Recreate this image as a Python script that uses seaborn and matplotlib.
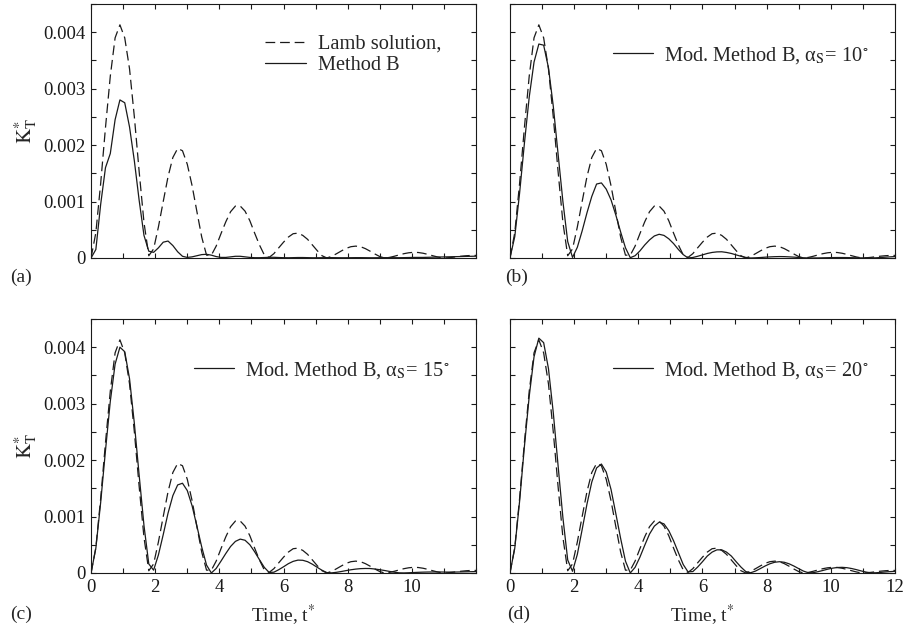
import numpy as np
import matplotlib.pyplot as plt
import seaborn as sns
from matplotlib.ticker import MultipleLocator

# sample times (t*), every 0.15 from 0 to 12
t = np.round(np.arange(81) * 0.15, 2)

# K*_T values, in units of 1e-3
lamb = np.array([
    0.00, 0.45, 1.32, 2.31, 3.22, 3.90, 4.13, 3.90, 3.35, 2.50,
    1.53, 0.63, 0.04, 0.16, 0.55, 1.00, 1.44, 1.78, 1.94, 1.90,
    1.66, 1.28, 0.82, 0.37, 0.05, 0.05, 0.21, 0.43, 0.64, 0.82,
    0.92, 0.92, 0.83, 0.66, 0.44, 0.23, 0.055, 0.01, 0.077, 0.18,
    0.28, 0.37, 0.43, 0.44, 0.40, 0.33, 0.23, 0.13, 0.04, 0.00,
    0.029, 0.075, 0.124, 0.17, 0.20, 0.21, 0.20, 0.166, 0.12, 0.07,
    0.025, 0.00, 0.010, 0.030, 0.054, 0.076, 0.092, 0.100, 0.097, 0.084,
    0.064, 0.040, 0.018, 0.002, 0.003, 0.011, 0.022, 0.032, 0.040, 0.045,
    0.045]) * 1e-3

method_b = np.array([
    0.00, 0.15, 0.95, 1.60, 1.85, 2.45, 2.80, 2.75, 2.32, 1.72,
    1.02, 0.40, 0.12, 0.10, 0.18, 0.28, 0.30, 0.22, 0.11, 0.03,
    0.01, 0.02, 0.04, 0.06, 0.065, 0.05, 0.025, 0.01, 0.01, 0.02,
    0.03, 0.03, 0.02, 0.01, 0.005, 0.005, 0.008, 0.012, 0.012, 0.008,
    0.005, 0.004, 0.006, 0.008, 0.008, 0.006, 0.004, 0.004, 0.005, 0.006,
    0.006, 0.005, 0.004, 0.004, 0.005, 0.006, 0.006, 0.005, 0.004, 0.004,
    0.005, 0.006, 0.006, 0.005, 0.005, 0.006, 0.008, 0.010, 0.010, 0.010,
    0.012, 0.014, 0.016, 0.018, 0.020, 0.022, 0.024, 0.026, 0.028, 0.030,
    0.032]) * 1e-3

mod_10 = np.array([
    0.00, 0.38, 1.15, 2.03, 2.85, 3.47, 3.79, 3.77, 3.37, 2.69,
    1.84, 1.00, 0.29, 0.01, 0.19, 0.48, 0.80, 1.09, 1.31, 1.33,
    1.22, 1.03, 0.76, 0.46, 0.18, 0.005, 0.04, 0.125, 0.23, 0.32,
    0.39, 0.42, 0.40, 0.34, 0.255, 0.15, 0.06, 0.00, 0.009, 0.03,
    0.055, 0.08, 0.098, 0.108, 0.11, 0.098, 0.08, 0.055, 0.03, 0.01,
    0.00, 0.003, 0.008, 0.014, 0.019, 0.023, 0.025, 0.024, 0.02, 0.015,
    0.009, 0.004, 0.001, 0.0, 0.001, 0.003, 0.005, 0.007, 0.008, 0.008,
    0.007, 0.005, 0.003, 0.002, 0.001, 0.0, 0.003, 0.008, 0.014, 0.02,
    0.025]) * 1e-3

mod_15 = np.array([
    0.00, 0.44, 1.25, 2.17, 3.04, 3.70, 4.00, 3.92, 3.44, 2.65,
    1.73, 0.84, 0.16, 0.05, 0.32, 0.68, 1.06, 1.37, 1.56, 1.59,
    1.46, 1.19, 0.83, 0.46, 0.14, 0.00, 0.08, 0.21, 0.345, 0.47,
    0.56, 0.60, 0.58, 0.50, 0.375, 0.235, 0.10, 0.01, 0.014, 0.058,
    0.11, 0.165, 0.206, 0.228, 0.225, 0.20, 0.155, 0.10, 0.048, 0.007,
    0.002, 0.012, 0.026, 0.042, 0.057, 0.069, 0.077, 0.080, 0.079, 0.07,
    0.058, 0.044, 0.028, 0.014, 0.003, 0.001, 0.004, 0.008, 0.012, 0.015,
    0.017, 0.018, 0.018, 0.017, 0.016, 0.016, 0.017, 0.019, 0.021, 0.023,
    0.025]) * 1e-3

mod_20 = np.array([
    0.00, 0.44, 1.27, 2.24, 3.13, 3.83, 4.16, 4.08, 3.62, 2.84,
    1.90, 0.98, 0.23, 0.03, 0.33, 0.77, 1.22, 1.61, 1.86, 1.93,
    1.79, 1.48, 1.05, 0.61, 0.21, 0.00, 0.10, 0.28, 0.49, 0.69,
    0.83, 0.90, 0.87, 0.75, 0.57, 0.36, 0.15, 0.02, 0.025, 0.105,
    0.20, 0.30, 0.37, 0.41, 0.41, 0.37, 0.30, 0.20, 0.105, 0.025,
    0.004, 0.033, 0.077, 0.123, 0.163, 0.19, 0.20, 0.19, 0.163, 0.123,
    0.077, 0.033, 0.004, 0.005, 0.023, 0.044, 0.067, 0.085, 0.097, 0.10,
    0.094, 0.079, 0.059, 0.036, 0.016, 0.002, 0.004, 0.01, 0.018, 0.024,
    0.03]) * 1e-3

panels = ['(a)', '(b)', '(c)', '(d)']
solid_curves = [method_b, mod_10, mod_15, mod_20]
solid_labels = ['Method B',
                'Mod. Method B, α$_\\mathrm{S}$= 10$^{\\circ}$',
                'Mod. Method B, α$_\\mathrm{S}$= 15$^{\\circ}$',
                'Mod. Method B, α$_\\mathrm{S}$= 20$^{\\circ}$']
ytick_vals = [0, 0.001, 0.002, 0.003, 0.004]
ytick_labels = ['0', '0.001', '0.002', '0.003', '0.004']

sns.set_theme(style='ticks')
plt.rcParams['font.family'] = ['Liberation Serif', 'DejaVu Serif']
plt.rcParams['mathtext.fontset'] = 'stix'
plt.rcParams['lines.scale_dashes'] = False

fig = plt.figure(figsize=(9.05, 6.28), dpi=100)
boxes = [[0.1006, 0.5892, 0.4254, 0.4045], [0.5635, 0.5892, 0.4254, 0.4045],
         [0.1006, 0.0876, 0.4254, 0.4045], [0.5635, 0.0876, 0.4254, 0.4045]]
tag_pos = [(0.011, 0.559), (0.558, 0.559), (0.011, 0.021), (0.560, 0.021)]

for i in range(4):
    ax = fig.add_axes(boxes[i])
    sns.lineplot(x=t, y=lamb, ax=ax, color='k', lw=0.9, linestyle=(0, (7, 3.5)))
    sns.lineplot(x=t, y=solid_curves[i], ax=ax, color='k', lw=0.9)
    ax.set_xlim(0, 12)
    ax.set_ylim(0, 0.0045)
    ax.xaxis.set_major_locator(MultipleLocator(2))
    ax.xaxis.set_minor_locator(MultipleLocator(1))
    ax.set_yticks(ytick_vals)
    ax.yaxis.set_minor_locator(MultipleLocator(0.0005))
    ax.tick_params(which='both', direction='in', top=True, right=True,
                   length=3.5, width=0.8, labelsize=13.5, pad=4, colors='k')
    for s in ax.spines.values():
        s.set_linewidth(0.8)
        s.set_color('k')

    if i % 2 == 0:
        ax.set_yticklabels(ytick_labels)
        ax.set_ylabel(r'$\mathrm{K}_{\mathrm{T}}^{*}$', fontsize=15)
        ax.yaxis.set_label_coords(-0.135, 0.5)
    else:
        ax.set_yticklabels([])
        ax.set_ylabel('')

    if i == 2:
        ax.set_xticks([0, 2, 4, 6, 8, 10])
        ax.set_xticklabels(['0', '2', '4', '6', '8', '10'])
    if i >= 2:
        ax.set_xlabel('Time, t$^{*}$', fontsize=14)
        ax.xaxis.set_label_coords(0.5, -0.113)
    else:
        ax.set_xticklabels([])
        ax.set_xlabel('')

    lines = ax.get_lines()
    if i == 0:
        ax.legend(handles=[lines[0], lines[1]], labels=['Lamb solution,', solid_labels[0]],
                  loc='upper left', bbox_to_anchor=(0.452, 0.88), frameon=False,
                  fontsize=14.7, borderpad=0, borderaxespad=0, handlelength=2.0,
                  handletextpad=0.6, labelspacing=0.1)
    else:
        ax.legend(handles=[lines[1]], labels=[solid_labels[i]],
                  loc='upper left', bbox_to_anchor=(0.268, 0.838), frameon=False,
                  fontsize=14.7, borderpad=0, borderaxespad=0, handlelength=1.96,
                  handletextpad=0.54)

    fig.text(tag_pos[i][0], tag_pos[i][1], panels[i], fontsize=14, va='center', ha='left')

fig.savefig('out.png', dpi=100)
